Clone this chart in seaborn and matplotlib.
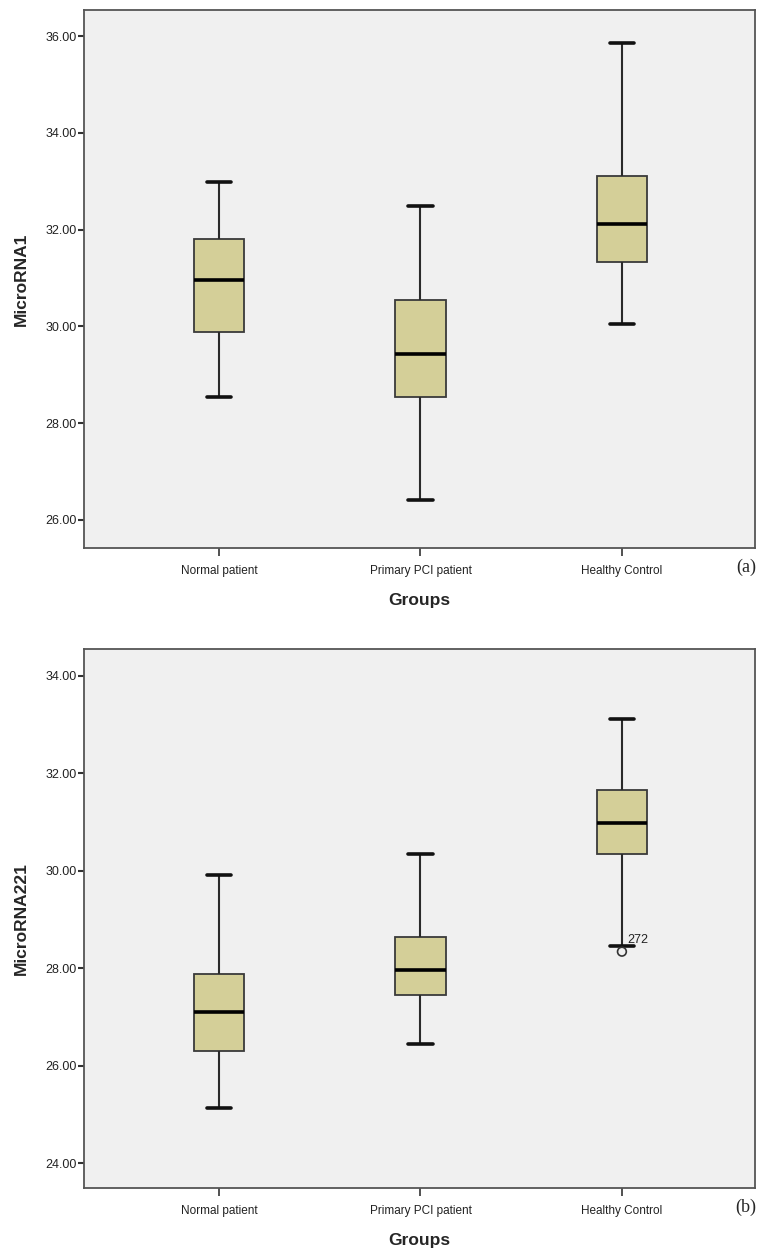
import numpy as np
import pandas as pd
import seaborn as sns
import matplotlib.pyplot as plt

# groups on the x axis
groups = ['Normal patient', 'Primary PCI patient', 'Healthy Control']

# panel (a): MicroRNA1 box summaries, one value per group
mir1_low = [28.54, 26.42, 30.04]
mir1_q1 = [29.89, 28.55, 31.33]
mir1_median = [30.95, 29.43, 32.12]
mir1_q3 = [31.81, 30.55, 33.11]
mir1_high = [32.99, 32.48, 35.85]
mir1_ticks = [26, 28, 30, 32, 34, 36]

# panel (b): MicroRNA221 box summaries
mir221_low = [25.13, 26.45, 28.46]
mir221_q1 = [26.30, 27.46, 30.34]
mir221_median = [27.11, 27.97, 30.98]
mir221_q3 = [27.89, 28.65, 31.65]
mir221_high = [29.91, 30.34, 33.12]
mir221_ticks = [24, 26, 28, 30, 32, 34]

# outlier in panel (b)
out_group = ['Healthy Control']
out_value = [28.34]
out_label = ['272']

box_color = '#D4CF98'
bg_color = '#F0F0F0'

sns.set_style('white')
plt.rcParams['font.family'] = ['Liberation Sans', 'DejaVu Sans']


def make_df(low, q1, med, q3, high):
    rows = []
    for i, g in enumerate(groups):
        for v in [low[i], q1[i], med[i], q3[i], high[i]]:
            rows.append({'group': g, 'value': v})
    return pd.DataFrame(rows)


def draw_panel(ax, df, ylabel, ticks, ylim, tag):
    sns.boxplot(data=df, x='group', y='value', order=groups, ax=ax,
                width=0.25, whis=(0, 100), color=box_color, saturation=1,
                showfliers=False, linewidth=1.3, capwidths=0.12,
                boxprops=dict(edgecolor='#3a3a3a', linewidth=1.3),
                whiskerprops=dict(color='#2a2a2a', linewidth=1.5),
                capprops=dict(color='#111111', linewidth=2.6),
                medianprops=dict(color='#000000', linewidth=2.6))
    ax.set_facecolor(bg_color)
    ax.set_xlim(-0.67, 2.66)
    ax.set_ylim(*ylim)
    ax.set_yticks(ticks)
    ax.set_yticklabels(['%.2f' % t for t in ticks])
    ax.tick_params(axis='y', which='major', direction='out', length=4,
                   width=1.5, color='#333333', labelsize=9, pad=1,
                   left=True, labelcolor='#222222')
    ax.tick_params(axis='x', which='major', direction='out', length=6,
                   width=1.2, color='#333333', labelsize=8.5, pad=6,
                   bottom=True, labelcolor='#222222')
    for s in ax.spines.values():
        s.set_color('#555555')
        s.set_linewidth(1.3)
    ax.set_xlabel('Groups', fontsize=12.5, fontweight='bold', labelpad=12)
    ax.set_ylabel(ylabel, fontsize=12.5, fontweight='bold', labelpad=12)
    ax.text(0.987, -0.036, tag, transform=ax.transAxes, ha='center',
            va='center', fontsize=13, family=['Liberation Serif'])


fig = plt.figure(figsize=(7.65, 12.5), dpi=100)
ax1 = fig.add_axes([0.1098, 0.5616, 0.877, 0.4304])
ax2 = fig.add_axes([0.1098, 0.0496, 0.877, 0.4312])

df1 = make_df(mir1_low, mir1_q1, mir1_median, mir1_q3, mir1_high)
df2 = make_df(mir221_low, mir221_q1, mir221_median, mir221_q3, mir221_high)

draw_panel(ax1, df1, 'MicroRNA1', mir1_ticks, (25.42, 36.54), '(a)')
draw_panel(ax2, df2, 'MicroRNA221', mir221_ticks, (23.49, 34.55), '(b)')

# outlier point and its case number
for g, v, lab in zip(out_group, out_value, out_label):
    xi = groups.index(g)
    ax2.scatter([xi], [v], s=40, facecolor='none', edgecolor='#333333',
                linewidth=1.2, zorder=5)
    ax2.annotate(lab, (xi, v), xytext=(4, 6), textcoords='offset points',
                 fontsize=9, color='#222222')

fig.savefig('out.png', dpi=100)
